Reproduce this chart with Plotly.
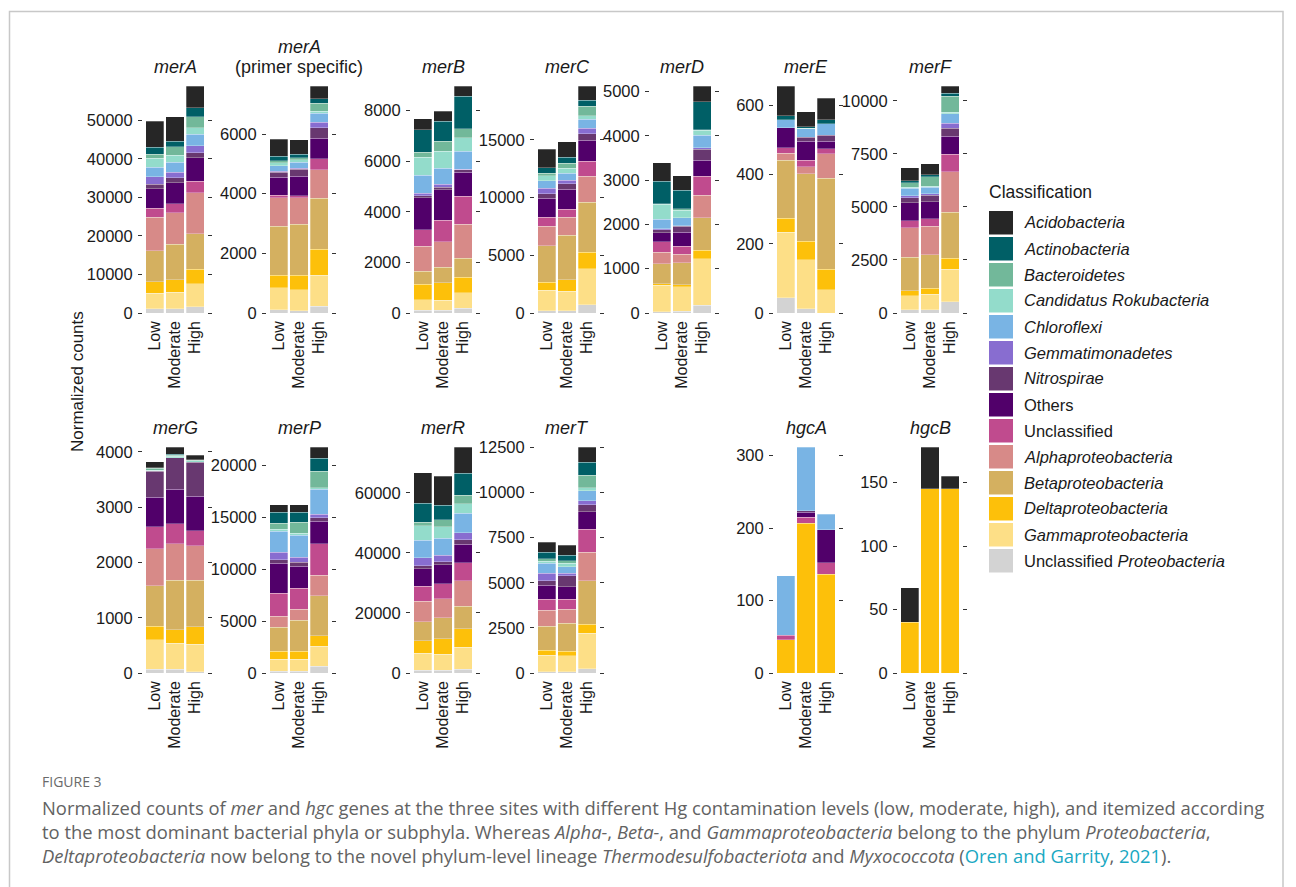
import plotly.graph_objects as go

# page body adds an 8px offset; figure covers the rest of the 1296x887 window
OFF = 8
W, H = 1296 - OFF, 887 - OFF

# ---------------- data ----------------
SITES = ["Low", "Moderate", "High"]

# stacking order, bottom -> top
CLASSES = ["Unclassified Proteobacteria", "Gammaproteobacteria", "Deltaproteobacteria",
           "Betaproteobacteria", "Alphaproteobacteria", "Unclassified", "Others",
           "Nitrospirae", "Gemmatimonadetes", "Chloroflexi", "Candidatus Rokubacteria",
           "Bacteroidetes", "Actinobacteria", "Acidobacteria"]
COLORS = ["#d3d3d3", "#fddf87", "#fdc00a", "#d4b060", "#d78a88", "#c04b8e", "#51006a",
          "#683870", "#886dd0", "#79b4e4", "#93dccb", "#72b89a", "#005f66", "#262626"]
LEGEND_LABELS = ["Unclassified <i>Proteobacteria</i>", "<i>Gammaproteobacteria</i>",
                 "<i>Deltaproteobacteria</i>", "<i>Betaproteobacteria</i>",
                 "<i>Alphaproteobacteria</i>", "Unclassified", "Others", "<i>Nitrospirae</i>",
                 "<i>Gemmatimonadetes</i>", "<i>Chloroflexi</i>", "<i>Candidatus Rokubacteria</i>",
                 "<i>Bacteroidetes</i>", "<i>Actinobacteria</i>", "<i>Acidobacteria</i>"]

# per gene: rows = Low, Moderate, High ; columns follow CLASSES
merA = [[1040, 4150, 2860, 8050, 8740, 2330, 5020, 1210, 1900, 2510, 2340, 1040, 1820, 6750],
        [1040, 4410, 3200, 9170, 8130, 2420, 5370, 1300, 1470, 2600, 1820, 2160, 1470, 6310],
        [1560, 5970, 3800, 9260, 10550, 3030, 6050, 1300, 1900, 2940, 1730, 2770, 2340, 5700]]
merA_primer = [[110, 740, 410, 1650, 950, 80, 610, 170, 30, 190, 100, 70, 150, 560],
               [70, 710, 480, 1720, 880, 70, 650, 240, 40, 190, 90, 70, 110, 490],
               [230, 1030, 880, 1710, 950, 370, 690, 350, 180, 310, 70, 270, 150, 420]]
merB = [[105, 420, 620, 510, 975, 660, 1260, 90, 95, 710, 710, 195, 880, 435],
        [105, 395, 700, 605, 1000, 855, 1210, 105, 105, 645, 670, 380, 790, 410],
        [195, 605, 605, 765, 1330, 1120, 945, 95, 25, 700, 540, 355, 1275, 410]]
merC = [[200, 1760, 720, 3150, 1710, 780, 1650, 350, 490, 660, 430, 230, 460, 1590],
        [200, 1680, 1010, 3840, 1560, 720, 1710, 490, 290, 610, 430, 460, 520, 1330],
        [720, 3120, 1420, 4340, 2250, 1300, 1820, 550, 490, 780, 320, 810, 520, 1240]]
merD = [[25, 600, 30, 460, 255, 235, 210, 60, 30, 210, 340, 15, 510, 415],
        [40, 555, 40, 500, 195, 175, 315, 135, 15, 180, 175, 25, 420, 330],
        [175, 1050, 190, 730, 510, 435, 355, 250, 40, 275, 115, 15, 625, 360]]
merE = [[44, 190, 40, 167, 21, 15, 58, 0, 0, 24, 0, 0, 11, 86],
        [12, 142, 53, 196, 19, 19, 55, 12, 0, 25, 1, 0, 4, 43],
        [0, 67, 59, 264, 70, 15, 21, 17, 0, 34, 0, 0, 11, 63]]
merF = [[157, 645, 236, 1587, 1399, 315, 864, 236, 95, 345, 63, 189, 110, 613],
        [157, 723, 283, 1588, 1336, 362, 786, 314, 79, 314, 47, 425, 110, 519],
        [534, 1541, 503, 2169, 1903, 833, 849, 377, 251, 425, 94, 739, 157, 330]]
merG = [[72, 531, 242, 736, 669, 393, 542, 465, 6, 0, 12, 36, 12, 103],
        [72, 471, 241, 899, 658, 362, 621, 573, 0, 0, 24, 19, 18, 132],
        [24, 495, 314, 844, 628, 265, 627, 616, 0, 0, 24, 12, 12, 79]]
merP = [[160, 1156, 803, 2311, 1059, 2215, 2889, 321, 706, 2055, 192, 578, 1027, 738],
        [160, 1188, 771, 2953, 1059, 2055, 2118, 385, 482, 2118, 193, 1059, 931, 738],
        [674, 1926, 995, 3852, 1990, 3018, 2183, 321, 321, 2407, 161, 1605, 1252, 1059]]
merR = [[880, 5740, 4190, 6290, 6840, 4960, 5740, 1100, 2650, 5740, 4960, 1100, 6400, 10150],
        [880, 5300, 5180, 6950, 6400, 4960, 6290, 1100, 2210, 5520, 3860, 2320, 4850, 9600],
        [1320, 7280, 6070, 7610, 8490, 5850, 6290, 1430, 2430, 6400, 3090, 2870, 7390, 8710]]
merT = [[56, 927, 278, 1336, 890, 613, 760, 260, 408, 556, 112, 130, 352, 556],
        [74, 891, 241, 1539, 780, 556, 705, 594, 148, 371, 185, 130, 316, 556],
        [223, 1966, 501, 2411, 1577, 1280, 965, 408, 223, 556, 148, 705, 724, 834]]
hgcA = [[0, 0, 46, 0, 0, 6, 0, 0, 0, 82, 0, 0, 0, 0],
        [0, 0, 207, 0, 0, 8, 7, 2, 0, 88, 0, 0, 0, 0],
        [0, 0, 136, 0, 0, 16, 46, 0, 0, 21, 0, 0, 0, 0]]
hgcB = [[0, 0, 40, 0, 0, 0, 0, 0, 0, 0, 0, 0, 0, 27],
        [0, 0, 145, 0, 0, 0, 0, 0, 0, 0, 0, 0, 0, 33],
        [0, 0, 145, 0, 0, 0, 0, 0, 0, 0, 0, 0, 0, 10]]

GENE_TITLES = [["<i>merA</i>"], ["<i>merA</i>", "(primer specific)"], ["<i>merB</i>"],
               ["<i>merC</i>"], ["<i>merD</i>"], ["<i>merE</i>"], ["<i>merF</i>"],
               ["<i>merG</i>"], ["<i>merP</i>"], ["<i>merR</i>"], ["<i>merT</i>"],
               ["<i>hgcA</i>"], ["<i>hgcB</i>"]]
GENE_DATA = [merA, merA_primer, merB, merC, merD, merE, merF, merG, merP, merR, merT, hgcA, hgcB]
GENE_TICKS = [[0, 10000, 20000, 30000, 40000, 50000], [0, 2000, 4000, 6000],
              [0, 2000, 4000, 6000, 8000], [0, 5000, 10000, 15000],
              [0, 1000, 2000, 3000, 4000, 5000], [0, 200, 400, 600],
              [0, 2500, 5000, 7500, 10000], [0, 1000, 2000, 3000, 4000],
              [0, 5000, 10000, 15000, 20000], [0, 20000, 40000, 60000],
              [0, 2500, 5000, 7500, 10000, 12500], [0, 100, 200, 300], [0, 50, 100, 150]]

# ---------------- layout geometry (window pixels) ----------------
COL_LEFT = [146, 270, 414, 538, 653, 777, 901]
PANEL_POS = [(0, 0), (0, 1), (0, 2), (0, 3), (0, 4), (0, 5), (0, 6),
             (1, 0), (1, 1), (1, 2), (1, 3), (1, 5), (1, 6)]
ROW_TOP = [86, 447]
ROW_ZERO = [313, 673]

FONT = "Liberation Sans, Arial, sans-serif"
TXT = "#1a1a1a"


def px_x(p):
    return (p - OFF) / W


def px_y(p):
    return 1 - (p - OFF) / H


fig = go.Figure()
layout = {}
annotations = []
shapes = []

for gi, data in enumerate(GENE_DATA):
    n = gi + 1
    xa = "x" if n == 1 else f"x{n}"
    ya = "y" if n == 1 else f"y{n}"
    row, col = PANEL_POS[gi]
    L = COL_LEFT[col]
    x0, x1 = px_x(L - 3), px_x(L + 61)
    y0, y1 = px_y(ROW_ZERO[row]), px_y(ROW_TOP[row])
    totals = [sum(r) for r in data]
    top = max(totals)
    for ci, cname in enumerate(CLASSES):
        vals = [data[si][ci] if data[si][ci] > 0 else None for si in range(3)]
        fig.add_trace(go.Bar(
            x=SITES, y=vals, name=cname, xaxis=xa, yaxis=ya,
            marker=dict(color=COLORS[ci], line=dict(width=0.4, color="rgba(255,255,255,0.7)")),
            showlegend=False, hoverinfo="skip"))
    kx = "xaxis" if n == 1 else f"xaxis{n}"
    ky = "yaxis" if n == 1 else f"yaxis{n}"
    layout[kx] = dict(domain=[x0, x1], anchor=ya, type="category",
                      categoryorder="array", categoryarray=SITES,
                      range=[-0.585, 2.585], showgrid=False, zeroline=False, showline=False,
                      ticks="", tickangle=-90, ticklabelstandoff=4, automargin=False,
                      tickfont=dict(family=FONT, size=16, color=TXT), fixedrange=True)
    ticks = GENE_TICKS[gi]
    layout[ky] = dict(domain=[y0, y1], anchor=xa, range=[0, top],
                      tickmode="array", tickvals=ticks, ticktext=[str(t) for t in ticks],
                      showgrid=False, zeroline=False, showline=False,
                      ticks="outside", ticklen=4, tickwidth=1, tickcolor="#333333",
                      mirror="ticks", ticklabelstandoff=2, automargin=False,
                      tickfont=dict(family=FONT, size=16.5, color=TXT), fixedrange=True)
    lines = GENE_TITLES[gi]
    for li, txt in enumerate(reversed(lines)):
        annotations.append(dict(
            text=txt, xref="paper", yref="paper",
            x=(x0 + x1) / 2, y=px_y(ROW_TOP[row] - 19 - 20 * li), xanchor="center",
            yanchor="middle", showarrow=False, font=dict(family=FONT, size=18, color=TXT)))

# y axis title
annotations.append(dict(text="Normalized counts", xref="paper", yref="paper",
                        x=px_x(78), y=px_y(382), textangle=-90, showarrow=False,
                        xanchor="center", yanchor="middle",
                        font=dict(family=FONT, size=17, color=TXT)))

# legend (drawn manually, top -> bottom = reversed stacking)
annotations.append(dict(text="Classification", xref="paper", yref="paper",
                        x=px_x(987), y=px_y(192), xanchor="left", yanchor="middle",
                        showarrow=False, font=dict(family=FONT, size=17.5, color=TXT)))
for k, ci in enumerate(reversed(range(len(CLASSES)))):
    top_px = 211 + 26 * k
    shapes.append(dict(type="rect", xref="paper", yref="paper",
                       x0=px_x(989), x1=px_x(1013), y0=px_y(top_px + 23.5), y1=px_y(top_px),
                       fillcolor=COLORS[ci], line=dict(width=0)))
    annotations.append(dict(text=LEGEND_LABELS[ci], xref="paper", yref="paper",
                            x=px_x(1022), y=px_y(top_px + 11.5), xanchor="left",
                            yanchor="middle", showarrow=False,
                            font=dict(family=FONT, size=16.5, color=TXT)))

# frame
shapes.append(dict(type="rect", xref="paper", yref="paper",
                   x0=px_x(9.5), x1=px_x(1283), y0=px_y(905), y1=px_y(11.5),
                   line=dict(color="#c8c8c8", width=1.5), fillcolor="rgba(0,0,0,0)"))

# caption
CAP_FONT = "Open Sans, Lato, sans-serif"
CAP_COL = "#626262"
LINK = "#19a8c2"
annotations.append(dict(text="FIGURE 3", xref="paper", yref="paper", x=px_x(40),
                        y=px_y(781), xanchor="left", yanchor="middle", showarrow=False,
                        font=dict(family=CAP_FONT, size=14, color="#6a6a6a")))
CAPTION = [
    "Normalized counts of <i>mer</i> and <i>hgc</i> genes at the three sites with different Hg "
    "contamination levels (low, moderate, high), and itemized according",
    "to the most dominant bacterial phyla or subphyla. Whereas <i>Alpha-</i>, <i>Beta-</i>, and "
    "<i>Gammaproteobacteria</i> belong to the phylum <i>Proteobacteria</i>,",
    "<i>Deltaproteobacteria</i> now belong to the novel phylum-level lineage "
    "<i>Thermodesulfobacteriota</i> and <i>Myxococcota</i> (<span style='color:" + LINK +
    "'>Oren and Garrity</span>, <span style='color:" + LINK + "'>2021</span>).",
]
for i, line in enumerate(CAPTION):
    annotations.append(dict(text=line, xref="paper", yref="paper", x=px_x(40),
                            y=px_y(807 + 24 * i), xanchor="left", yanchor="middle",
                            showarrow=False, font=dict(family=CAP_FONT, size=18.4, color=CAP_COL)))

fig.update_layout(**layout)
fig.update_layout(
    width=W, height=H, margin=dict(l=0, r=0, t=0, b=0, pad=0, autoexpand=False),
    paper_bgcolor="white", plot_bgcolor="white",
    barmode="stack", bargap=0.1, showlegend=False,
    annotations=annotations, shapes=shapes,
)

fig.write_html("out.html")
